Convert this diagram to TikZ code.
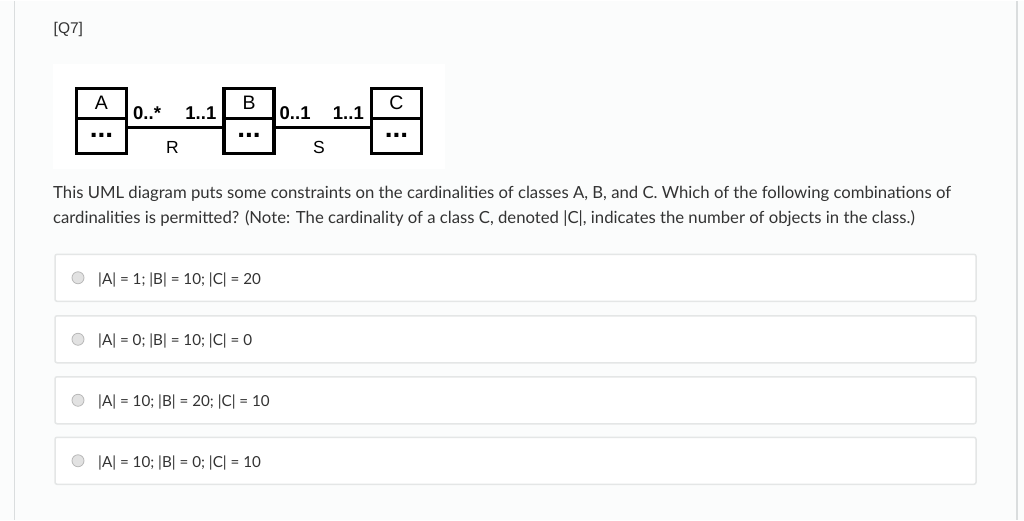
\documentclass[tikz,border=0pt]{standalone}
\usepackage{fontspec}
\setmainfont{Lato}
\newfontfamily\arialfont{Liberation Sans}
\usetikzlibrary{positioning}
\definecolor{pagebg}{HTML}{FBFCFC}
\definecolor{rulegray}{HTML}{DADDDE}
\definecolor{optborder}{HTML}{E4E6E6}
\definecolor{txtgray}{HTML}{333333}
\definecolor{radiofill}{HTML}{E2E2E2}
\definecolor{radioedge}{HTML}{B8B8B8}

\begin{document}
\begin{tikzpicture}
  [
    x=1pt, y=-1pt,
    classname/.style = {draw, line width=3.5pt, outer sep=0pt, inner sep=0pt,
                        minimum width=50pt, minimum height=30pt,
                        font=\arialfont\fontsize{19.5}{20}\selectfont},
    classattr/.style = {classname, minimum height=35pt, text depth=-2pt,
                        font=\arialfont\bfseries\fontsize{28}{28}\selectfont},
    assoc/.style     = {line width=3.5pt},
    mult/.style      = {inner sep=0pt, font=\arialfont\bfseries\fontsize{18.5}{19}\selectfont},
    rolename/.style  = {inner sep=0pt, font=\arialfont\fontsize{17.5}{18}\selectfont},
    question/.style  = {anchor=base west, inner sep=0pt, text=txtgray,
                        font=\fontsize{16.7}{19}\selectfont},
    optbox/.style    = {draw=optborder, line width=1.5pt, rounded corners=2pt, fill=white,
                        minimum width=921pt, minimum height=47pt, inner sep=0pt},
    radio/.style     = {draw=radioedge, circle, fill=radiofill, line width=0.8pt,
                        minimum size=12pt, inner sep=0pt},
    answer/.style    = {anchor=base west, inner sep=0pt, text=txtgray,
                        font=\fontsize{15.2}{17}\selectfont},
  ]

  % the page
  \fill[pagebg] (0,0) rectangle (1024,519);
  \draw[rulegray, line width=1.5pt] (14.5,0) -- (14.5,519);
  \draw[rulegray, line width=1.5pt] (1017,0) -- (1017,519);

  \node (qnum) at (53.5,33) [anchor=base west, inner sep=0pt, text=txtgray,
    font=\arialfont\fontsize{15.5}{16}\selectfont] {[Q7]};

  % the uml diagram
  \fill[white] (53,63) rectangle (445,168);

  \node (A)  at (101.5,102.5) [classname] {A};
  \node (Ax) [classattr, below=0pt of A] {...};
  \node (B)  at (249,102.5)   [classname] {B};
  \node (Bx) [classattr, below=0pt of B] {...};
  \node (C)  at (396.5,102.5) [classname] {C};
  \node (Cx) [classattr, below=0pt of C] {...};

  \draw[assoc] ([yshift=8.5pt]Ax.east) --
    node (R) [rolename, pos=0.47, anchor=north, yshift=-12.5pt] {R} ([yshift=8.5pt]Bx.west);
  \draw[assoc] ([yshift=8.5pt]Bx.east) --
    node (S) [rolename, pos=0.46, anchor=north, yshift=-12.5pt] {S} ([yshift=8.5pt]Cx.west);

  \node (mAR) [mult, anchor=south west] at ([xshift=6.5pt,yshift=16pt]Ax.east) {0..*};
  \node (mBR) [mult, anchor=south east] at ([xshift=-7.5pt,yshift=16pt]Bx.west) {1..1};
  \node (mBS) [mult, anchor=south west] at ([xshift=5.5pt,yshift=16pt]Bx.east) {0..1};
  \node (mCS) [mult, anchor=south east] at ([xshift=-7.5pt,yshift=16pt]Cx.west) {1..1};

  % the question
  \node (line1) at (53,198) [question] {This UML diagram puts some constraints on the cardinalities of classes A, B, and C. Which of the following combinations of};
  \node (line2) at (53,223) [question] {cardinalities is permitted? (Note: The cardinality of a class C, denoted |C|, indicates the number of objects in the class.)};

  % the answers
  \foreach \y/\txt [count=\i] in {277/{|A| = 1; |B| = 10; |C| = 20},
                                  338.5/{|A| = 0; |B| = 10; |C| = 0},
                                  399.5/{|A| = 10; |B| = 20; |C| = 10},
                                  460/{|A| = 10; |B| = 0; |C| = 10}}
  {
    \node (opt\i) at (515.5,\y) [optbox] {};
    \node (radio\i) at (78,\y) [radio] {};
    \node (ans\i) at (98,\y+6.5) [answer] {\txt};
  }

\end{tikzpicture}
\end{document}
